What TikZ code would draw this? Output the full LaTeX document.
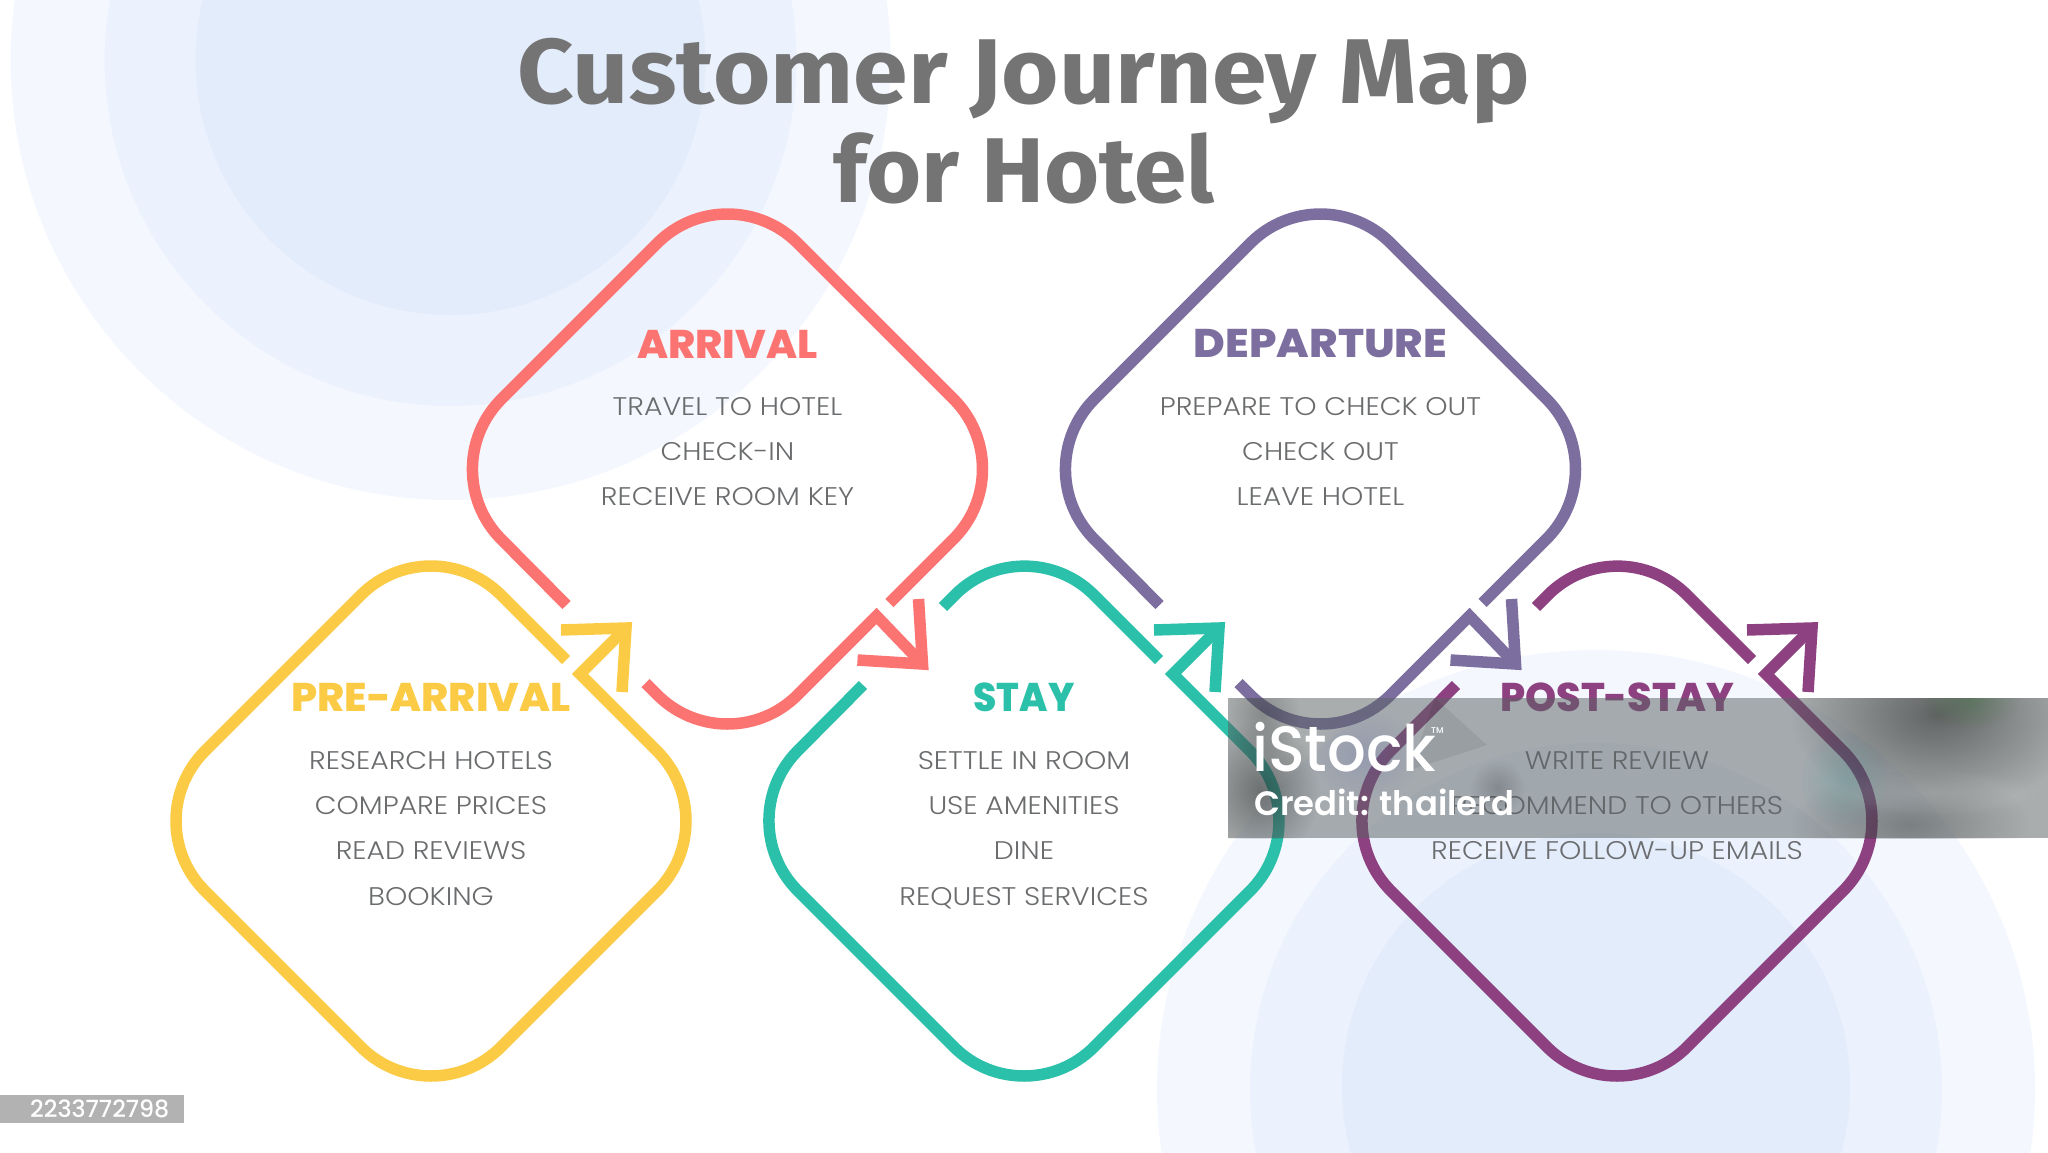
\documentclass[tikz,border=0pt]{standalone}
\usepackage{fontspec}
\usepackage{graphicx}
\usetikzlibrary{fadings}
\setmainfont{Poppins}
\newfontfamily\titlef[UprightFont={* Bold},FakeStretch=1.07]{Fira Sans}
\newfontfamily\headf[UprightFont={* ExtraBold}]{Poppins}
\newfontfamily\bodyf[UprightFont={* Light},FakeStretch=1.11]{Poppins}
\newfontfamily\markf[UprightFont={* Medium}]{Poppins}
\newfontfamily\creditf[UprightFont={* SemiBold}]{Poppins}
\definecolor{cyellow}{HTML}{FCCB45}
\definecolor{cred}{HTML}{FC7472}
\definecolor{cteal}{HTML}{2BC0A9}
\definecolor{cpurple}{HTML}{7C6F9F}
\definecolor{cmagenta}{HTML}{8E4180}
\definecolor{ctext}{HTML}{6A6C6E}
\definecolor{ctitle}{HTML}{747474}
\definecolor{bgA}{HTML}{F4F8FE}
\definecolor{bgB}{HTML}{ECF2FD}
\definecolor{bgC}{HTML}{E3ECFB}
\definecolor{bandgray}{HTML}{5B6365}
\tikzfading[name=softblob,inner color=transparent!0,outer color=transparent!100]
\tikzset{
  outline/.style={line width=11.5pt,line cap=butt,line join=miter,miter limit=20},
  headlabel/.style={font=\headf\fontsize{40}{40}\selectfont,inner sep=0pt,anchor=center},
  bodylabel/.style={font=\bodyf\fontsize{25.5}{45.3}\selectfont,text=ctext,inner sep=0pt,anchor=north,align=center},
  blob/.style={path fading=softblob},
}
\newcommand{\arrowUp}[1]{%
  \coordinate (tipU) at (195,-193);
  \coordinate (armUa) at (130,-191);
  \coordinate (armUb) at (191,-129);
  \draw[outline,draw=#1] (armUa) -- (tipU) -- (armUb);}
\newcommand{\arrowDown}[1]{%
  \coordinate (tipD) at (195,195);
  \coordinate (armDa) at (191,130);
  \coordinate (armDb) at (130,191);
  \draw[outline,draw=#1] (armDa) -- (tipD) -- (armDb);}
\newcommand{\upperParts}[1]{%
  \draw[outline,draw=#1] (-81,-214) [rounded corners=99pt] -- (0,-296) [sharp corners] -- (135,-161);
  \draw[outline,draw=#1] (-161,-136) [rounded corners=99pt] -- (-296,0) -- (0,296) -- (296,0) [sharp corners] -- (149,-147) -- (195,-193);
  \arrowUp{#1}}
\newcommand{\lowerParts}[1]{%
  \draw[outline,draw=#1] (-161,136) [rounded corners=99pt] -- (-296,0) -- (0,-296) -- (296,0) [sharp corners] -- (162,134);
  \draw[outline,draw=#1] (-82,214) [rounded corners=99pt] -- (0,296) [sharp corners] -- (149,147) -- (195,195);
  \arrowDown{#1}}
\begin{document}
\begin{tikzpicture}[x=1pt,y=-1pt]
\useasboundingbox (0,0) rectangle (2048,1152);
\fill[white] (0,0) rectangle (2048,1152);
\begin{scope}
\clip (0,0) rectangle (2048,1152);
\fill[bgA] (450.6,60) circle (440);
\fill[bgB] (450.6,60) circle (346);
\fill[bgC] (450.6,60) circle (255);
\fill[bgA] (1596,1089) circle (439);
\fill[bgB] (1596,1089) circle (346);
\fill[bgC] (1596,1087) circle (254);
\end{scope}
\node[font=\titlef\fontsize{92}{99}\selectfont,text=ctitle,align=center,inner sep=0pt,anchor=center] (title) at (1024,121) {Customer Journey Map\\\scalebox{.96}[1]{for Hotel}};

\begin{scope}[shift={(431,821)}]
\draw[outline,draw=cyellow] (135,-161) [rounded corners=99pt] -- (0,-296) -- (-296,0) -- (0,296) -- (296,0) [sharp corners] -- (149,-147) -- (195,-193);
\arrowUp{cyellow}
\node[headlabel,text=cyellow] (h1) at (0,-124) {\scalebox{1.026}[1]{PRE-ARRIVAL}};
\node[bodylabel] (b1) at (0,-70) {RESEARCH HOTELS\\COMPARE PRICES\\READ REVIEWS\\BOOKING};
\end{scope}

\begin{scope}[shift={(727.5,469)}]
\lowerParts{cred}
\node[headlabel,text=cred] (h2) at (0,-125) {\scalebox{1.03}[1]{ARRIVAL}};
\node[bodylabel] (b2) at (0,-72) {TRAVEL TO HOTEL\\CHECK-IN\\RECEIVE ROOM KEY};
\end{scope}

\begin{scope}[shift={(1024,821)}]
\upperParts{cteal}
\node[headlabel,text=cteal] (h3) at (0,-124) {\scalebox{.94}[1]{STAY}};
\node[bodylabel] (b3) at (0,-70) {SETTLE IN ROOM\\USE AMENITIES\\DINE\\REQUEST SERVICES};
\end{scope}

\begin{scope}[shift={(1320.5,469)}]
\lowerParts{cpurple}
\node[headlabel,text=cpurple] (h4) at (0,-125) {\scalebox{1.08}[1]{DEPARTURE}};
\node[bodylabel] (b4) at (0,-72) {PREPARE TO CHECK OUT\\CHECK OUT\\LEAVE HOTEL};
\end{scope}

\begin{scope}[shift={(1617,821)}]
\upperParts{cmagenta}
\node[headlabel,text=cmagenta] (h5) at (0,-124) {\scalebox{.99}[1]{POST-STAY}};
\node[bodylabel] (b5) at (0,-70) {WRITE REVIEW\\RECOMMEND TO OTHERS\\RECEIVE FOLLOW-UP EMAILS};
\end{scope}

% watermark band
\fill[bandgray,opacity=.52] (1228,698) rectangle (2048,838);
\begin{scope}
\clip (1228,698) rectangle (2048,838);
\fill[black,opacity=.42,blob] (1790,620) rectangle (2080,810);
\fill[black,opacity=.25,blob] (1790,770) rectangle (2030,880);
\fill[green!40!black,opacity=.2,blob] (1920,670) rectangle (2020,730);
\fill[teal,opacity=.16,blob] (1800,730) rectangle (1890,830);
\fill[black,opacity=.35,blob] (1200,720) rectangle (1320,860);
\fill[black,opacity=.2,blob] (1225,670) rectangle (1300,760);
\fill[blue!40!gray,opacity=.16,blob] (1310,710) rectangle (1420,800);
\fill[black,opacity=.18,blob] (1470,760) rectangle (1525,815);
\fill[white,opacity=.14,blob] (1820,770) rectangle (2048,815);
\fill[black,opacity=.07] (1435,698) -- (1487,745) -- (1410,770) -- cycle;
\end{scope}
\node[font=\markf\fontsize{64}{64}\selectfont,text=white,inner sep=0pt,anchor=base west] (mark) at (1252,771) {\scalebox{.95}[1]{iStock}};
\node[font=\markf\fontsize{8.5}{8.5}\selectfont,text=white,inner sep=0pt,anchor=base west] (tm) at (1431,733) {TM};
\node[font=\creditf\fontsize{33.8}{33.8}\selectfont,text=white,inner sep=0pt,anchor=base west] (credit) at (1254,815) {Credit: thailerd};
\fill[black!30] (0,1095) rectangle (184,1123);
\node[font=\markf\fontsize{23.7}{23.7}\selectfont,text=white,inner sep=0pt,anchor=base west] (idlabel) at (30,1117) {2233772798};
\end{tikzpicture}
\end{document}
